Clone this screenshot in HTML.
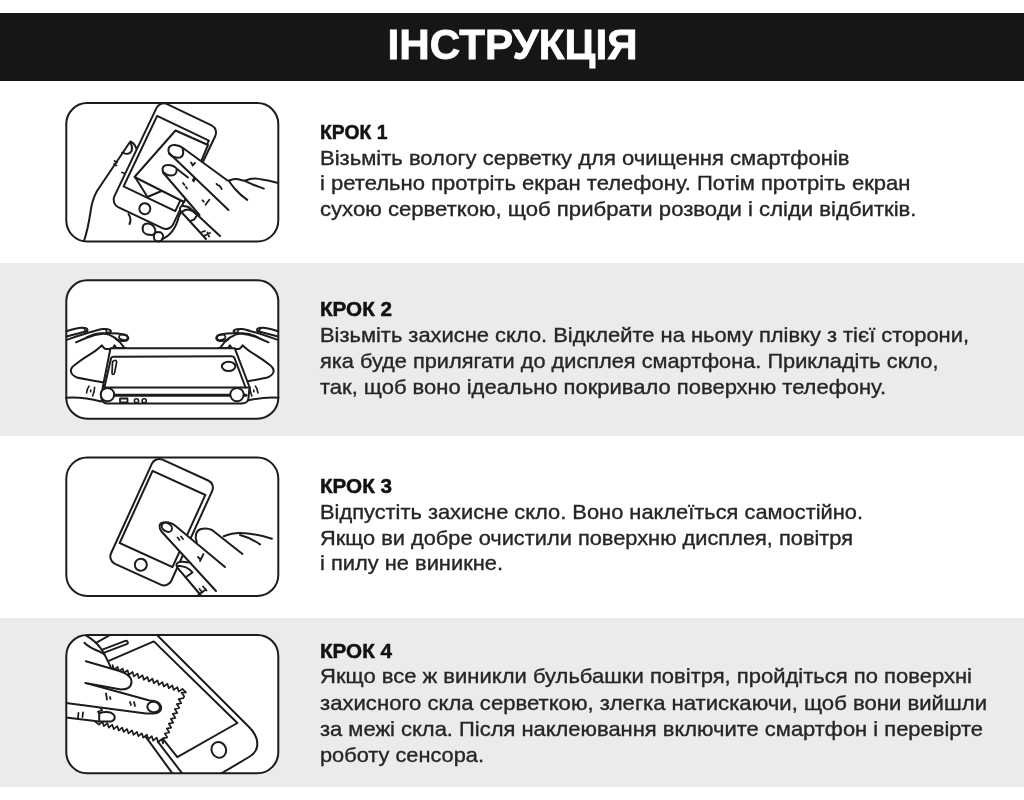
<!DOCTYPE html>
<html><head><meta charset="utf-8"><style>
html,body{margin:0;padding:0;background:#fff;width:1024px;height:800px;overflow:hidden}
svg{position:absolute;left:0;top:0;display:block;filter:grayscale(1)}
.k{font-family:"Liberation Sans",sans-serif;font-weight:bold;font-size:20.3px;fill:#121212;stroke:#121212;stroke-width:0.5}
.b{font-family:"Liberation Sans",sans-serif;font-size:20.4px;fill:#262626;stroke:#262626;stroke-width:0.35}
.h{font-family:"Liberation Sans",sans-serif;font-weight:bold;font-size:42.5px;fill:#fff;stroke:#fff;stroke-width:0.8}
.bx{fill:#fff;stroke:#1c1c1c;stroke-width:2}
.ln{fill:none;stroke:#1c1c1c;stroke-width:2;stroke-linecap:round;stroke-linejoin:round}
.lw{fill:#fff;stroke:#1c1c1c;stroke-width:2;stroke-linecap:round;stroke-linejoin:round}
</style></head><body>
<svg width="1024" height="800" viewBox="0 0 1024 800">
<rect x="0" y="13" width="1024" height="68" fill="#161616"/>
<rect x="0" y="263" width="1024" height="173" fill="#ebebeb"/>
<rect x="0" y="618" width="1024" height="169" fill="#ebebeb"/>
<text x="387.5" y="59" class="h" textLength="250.0" lengthAdjust="spacingAndGlyphs">ІНСТРУКЦІЯ</text>
<defs><clipPath id="c4"><rect x="66.3" y="634.9" width="212" height="138.4" rx="21"/></clipPath></defs>
<g style="fill:#fff;stroke:none"><rect x="66.3" y="103.1" width="212" height="138.4" rx="21"/><rect x="66.3" y="280.3" width="212" height="138.4" rx="21"/><rect x="66.3" y="457.5" width="212" height="138.4" rx="21"/><rect x="66.3" y="634.9" width="212" height="138.4" rx="21"/></g>
<!-- box1 illustration -->
<g class="ln">
<path d="M84,241 C87,232 89,222 90.5,212 C91.5,204 93,198 97,191 L130.3,141.5 C133,142.5 135.5,145.5 136.5,149 L120,190 L112,241 Z" style="fill:#fff;stroke:none"/>
<path d="M84,241 C87,232 89,222 90.5,212 C91.5,204 93,198 97,191 L130.3,141.5 C133,142.5 135.5,145.5 136.5,149"/>
<path d="M122,152.7 C126,154.5 130,154 131.6,151 C132.5,148 131.8,145 130.5,142.5"/>
<path d="M114.5,161 L117,162.5 M114,164 L116.5,165.5 M122,172.5 L125,173.5" style="stroke-width:1.8"/>
</g>
<g transform="translate(165.5,166.5) rotate(25.5)">
<rect class="lw" x="-33.3" y="-57" width="65.1" height="114" rx="8"/>
<rect class="ln" x="-29.3" y="-42" width="57.3" height="78"/>
<circle class="ln" cx="-0.5" cy="47" r="5.5"/>
</g>
<g class="ln">
<!-- cloth -->
<path class="lw" d="M175.5,130.5 L208,145 L184,202 L134.5,177 Z"/>
<path d="M135,177 L147.5,197 L161.5,191"/>
<!-- fingertips of holding hand -->
<path class="lw" d="M148,223.5 C143,223 142,227 143,231 C144,234 148,235 152,235 C155,234.5 156,232 155,229 C154,226 152,224 148,223.5 Z"/>
<path class="lw" d="M158,232 C154,232 153,236 154.5,239.5 C156,242 160,242 162,240 C164,238 163.5,234 161,232.5 C160,232 159,232 158,232 Z"/>
<path d="M162,239 C170,236 176,228 179,216 L182.5,209.5"/>
<path d="M128.5,214 C130.5,217 131,221 129.5,224"/>
<!-- lower third finger -->
<path class="lw" d="M206,239 L180.5,211 C179,208 180.5,206 183,206 C186,206 189,207 191,209 L220,236"/>
<path d="M182.5,211.5 C184,210 186.5,209.5 188.5,209.5 C192,210.5 195.5,212.5 197,215.5 L194.2,219.3 L190.3,221.2"/>
<path d="M202,232 L205,231 M204,236 L210,233 M207.5,232.5 L209,236.5" style="stroke-width:1.8"/>
<!-- hand contour -->
<path class="lw" d="M278,183 C266,178 256,177 246,178 L227.5,180.5 L230,205 L210,225 L178,185 Z" style="stroke:none"/>
<path d="M277.6,182.8 C270,181 262,179 255,178.6 C251,178.5 248,179.5 245,180.7 C243,181 240,179.5 236,179.1 C233,179 231,180 228.7,180.7"/>
<path d="M228.7,180.7 C231,184 233,187 236,190 C239,193.5 243,197 247.3,199.9"/>
<path d="M244.6,180.7 C249,183 252,184.5 255.3,185.5 C258,186.5 261,187.5 263.8,188.7"/>
<!-- finger 2 -->
<path class="lw" d="M163,172 C161.5,167 164,165 168,165 C172,165 175,166.5 177,169 L228.5,210 L199.5,215 Z" style="stroke:none"/>
<path d="M163,172.5 L199.5,215"/>
<path d="M163,172 C161.5,167 164,165 168,165 C172,165 175,166.5 177,169 L188,177.5"/>
<path d="M163,172 C165,174 168,175.5 171,175.5 C175,175.5 177,173 176.5,170"/>
<!-- finger 1 -->
<path class="lw" d="M169,153 C167,147 171,144.5 175,145 C179,145.5 181,146.5 183,148 L227.5,180.5 L228.5,210 Z" style="stroke:none"/>
<path d="M169,153 C167,147 171,144.5 175,145 C179,145.5 181,146.5 183,148 L227.5,180.5"/>
<path d="M169,153 L228.5,210"/>
<path d="M169.5,154 C172,157 176,158 180,157.5 C183.5,156.5 184,152 182.5,148.5"/>
<path d="M191,162.5 L192,164 M192.5,165.5 L195,163 M183,183 L184.5,185 M186,187 L187,188.5 M216.5,183.8 L218,185.3 M219.3,185.5 L221.8,189 M202.5,200.3 L203.8,201.6 M205.5,204.8 L209.3,199.8" style="stroke-width:1.8"/>
</g>
<!-- box2 illustration -->
<g id="hand2" class="ln">
<path d="M66,331.3 C72,329.5 78,328 82,327.8 L103,329 C112,330 120,333 125,334.6 C129,336 129.5,339.5 126,340.5 C122,341 118,340 115,339 C112,344 118,346 124.2,347.4 L93,352 L80,343 L66,340 Z" style="fill:#fff;stroke:none"/>
<path class="lw" d="M66,397.7 C78,397 90,398.5 101,401.5 L112,387.5 C109.5,384.8 106.5,382.8 102.5,382.2 C95,381 86,379.5 77,377.5 C70,374.5 69,369.5 74,365.5 C81,360 88,355.5 93.5,352.2 C97,350 100,347 102,345.3 C103,347 104,349 106,349 L112,349 C113,348.5 114,346.5 114.6,345.3 C115.5,347 116,348 117,348 L126,348"/>
<path d="M66.5,331.3 C72,329.5 78,328 82,327.8 C85,327.6 87.5,328.5 87.5,330 C87.5,331 86.5,331.5 85,331.5"/>
<path d="M66.5,336.5 L86.6,331.3"/>
<path d="M66.5,339.9 C78,336 92,331 102.3,329 C106,328.6 110.5,329.3 111,331 C111,332.3 109,332.8 106,332.7"/>
<path d="M76,342.3 L86,338 C92,335.5 98,334 104,333.5 C110,333 118,333.3 124.5,334.6 C128.5,335.5 129.5,339 126.5,340.5 C123,341.5 119,340.8 116.5,339.5"/>
<ellipse cx="123.3" cy="337.4" rx="4.3" ry="2.5" transform="rotate(10 123.3 337.4)" style="stroke-width:1.7"/>
<path d="M86.6,337.3 C92,334.5 98,333 103,333.2 C111,334 119,340 124.2,347.6"/>
<path d="M83,328 C84.5,328.5 85.5,330 85,331.3 M104.5,329 C106,329.5 107,331 106.5,332.5" style="stroke-width:1.5"/>
<path d="M89,386.2 C87.5,388 86.8,390.5 86.6,393 M90.8,390 L90.6,391.8 M94.6,387.2 C94.6,390 93.8,393 92.6,396" style="stroke-width:1.6"/>
<circle class="lw" cx="107.5" cy="394.6" r="6.7"/>
</g>
<use href="#hand2" transform="matrix(-1,0,0,1,344.5,0)"/>
<g class="ln">
<!-- phone body -->
<path class="lw" d="M110.5,348.3 L234.8,348.3 L249.5,387 L248.5,398 C248,402 246,403.5 242,403.5 L107,403.5 C104,403.5 101,401 101.5,397 L102.8,387 Z"/>
<path d="M113,356.8 L231.5,356.3 C233,356.3 234,357 234.5,358 L245.5,387.5 M113,356.8 C112,356.8 111.5,357.5 111,358.5 L104.5,387"/>
<path d="M103,387.5 L248,387.5"/>
<path d="M104,395.2 L246,395.2" style="stroke-width:3"/>
<rect x="120" y="398.5" width="7.5" height="4" style="stroke-width:1.8"/>
<circle cx="136.5" cy="400.8" r="2.1" style="stroke-width:1.6"/>
<circle cx="144.2" cy="400.8" r="2.1" style="stroke-width:1.6"/>
<path d="M114.5,360.5 C116,360 117,361 116.5,363 L114.5,373 C114,375 112,375 112,373 L112.5,363 C112.5,361.5 113.5,360.7 114.5,360.5 Z" style="stroke-width:1.7"/>
<ellipse cx="228.6" cy="366.3" rx="6.8" ry="4.6"/>
<circle class="lw" cx="107.5" cy="394.6" r="6.7"/>
<circle class="lw" cx="237" cy="394.6" r="6.7"/>
</g>
<!-- box3 illustration -->
<g transform="translate(160.9,521.8) rotate(24.5)">
<rect class="lw" x="-32.3" y="-57.2" width="66.2" height="114.5" rx="8"/>
<rect class="ln" x="-28.7" y="-42.9" width="58" height="79.3"/>
<circle class="ln" cx="-0.5" cy="47.4" r="6"/>
</g>
<g class="ln">
<!-- bottom finger -->
<path d="M201,596 L177.4,567.7 C175.5,565 176.5,562.5 179.5,562 C184,561.5 189,563 192,566 L218,596 Z" style="fill:#fff;stroke:none"/>
<path d="M201,595.5 L177.4,567.7 C175.5,565 176.5,562.5 179.5,562 C182,561.7 185,561.8 188,562.5"/>
<path d="M178,566 C183,565.5 189,568 192.5,572.5 L185.6,577.3"/>
<path d="M199.5,589 L202.5,592.5 M203,586.5 L206.5,590.5 M198.5,594.5 L206,589.5" style="stroke-width:1.8"/>
<!-- hand + middle finger -->
<path d="M225,567 L197,543 C194.5,536 196,530.5 201,529 C205,528 209,528.5 212,530 L242.5,554 L262,545 C258,541 250,536 240,535 C233,534 228,535 223.8,536.3 L278,540 L278,600 L225,600 Z" style="fill:#fff;stroke:none"/>
<path d="M196.8,542 C194.5,536 196,530.5 201,529 C205,528 209,528.5 212,530 L242.5,554"/>
<path d="M223.8,536.3 C230,534 236,533 240,533.1 C252,533 263,536 271.9,538.8"/>
<path d="M240,535 C248,537 255,541 260,544.4"/>
<!-- index finger -->
<path d="M216,591 L161.5,531.5 C158.5,527.5 159,523 163,522.5 C168,521.5 172,523 175,525.5 L225,567 Z" style="fill:#fff;stroke:none"/>
<path d="M216,591 L161.5,531.5 C158.5,527.5 159,523 163,522.5 C168,521.5 172,523 175,525.5 L225,567"/>
<ellipse cx="166.9" cy="527.3" rx="5.6" ry="4" transform="rotate(35 166.9 527.3)"/>
<path d="M177.5,537.5 L179.5,540 M181,536.5 L183,539 M198,557 L200,559 M203.5,554 L200,561" style="stroke-width:1.8"/>
</g>
<!-- box4 illustration -->
<g clip-path="url(#c4)">
<g class="ln">
<path class="lw" d="M140,618 L249.5,727.5 C255,733 257.5,739 257.3,745 C257,750 254,754 249,757 L195,789 L184.5,790 L148.4,740.4 L80,652 Z"/>
<path d="M157.8,741.6 L186.5,779"/>
<path d="M153.8,641.4 L237.4,723 L177.3,757.1 L103,663.4 Z"/>
<ellipse cx="218.8" cy="749.8" rx="7.2" ry="8" transform="rotate(-25 218.8 749.8)"/>
<path d="M101,652 L126,642.5" style="stroke-width:5.5"/>
<path d="M101,652 L126,642.5" style="stroke:#fff;stroke-width:1.6"/>
<path class="lw" d="M112.6,665.2 L113.9,669.6 L117.6,666.9 L118.9,671.3 L122.6,668.6 L123.9,673.0 L127.6,670.3 L128.8,674.7 L132.6,672.0 L133.8,676.4 L137.5,673.6 L138.8,678.1 L142.5,675.3 L143.8,679.8 L147.5,677.0 L148.8,681.5 L152.5,678.7 L153.8,683.2 L157.5,680.4 L158.8,684.9 L162.5,682.1 L163.7,686.5 L167.5,683.8 L168.7,688.2 L172.4,685.5 L173.7,689.9 L177.4,687.2 L178.7,691.6 L182.4,688.9 L186.0,692.3 L181.6,692.7 L184.2,696.3 L183.3,698.2 L178.7,699.2 L181.3,703.1 L176.8,704.1 L179.3,708.0 L174.8,709.0 L177.3,712.9 L172.8,713.9 L175.3,717.8 L170.8,718.8 L173.3,722.7 L168.8,723.7 L171.3,727.6 L166.8,728.6 L169.3,732.5 L164.8,733.5 L167.3,737.4 L162.8,738.4 L163.1,743.4 L161.7,739.1 L158.1,742.0 L156.7,737.6 L153.2,740.6 L151.8,736.2 L148.3,739.1 L146.9,734.7 L143.3,737.7 L141.9,733.3 L138.4,736.2 L137.0,731.9 L133.5,734.8 L132.1,730.4 L128.5,733.4 L127.1,729.0 L123.6,731.9 L122.2,727.6 L118.7,730.5 L117.3,726.1 L113.7,729.1 L112.3,724.7 L108.8,727.6 L107.4,723.2 L103.9,726.2 L102.5,721.8 L98.9,724.7 L95.2,721.7 L99.5,720.2 L96.5,716.7 L100.9,715.2 L97.9,711.7 L102.2,710.2 L99.3,706.6 L103.6,705.1 L100.6,701.6 L105.0,700.1 L102.0,696.6 L106.3,695.1 L103.3,691.6 L107.7,690.1 L104.7,686.6 L109.1,685.1 L106.1,681.6 L110.4,680.0 L107.4,676.5 L111.8,675.0 L108.8,671.5 L113.2,670.0Z" style="stroke-width:1.7"/>
<path class="lw" d="M60,628 L86.2,635.6 C92,639 97,643 100.5,648 C104,653 107,659 110.8,667.4 L112,700 L60,700 Z" style="stroke:none"/>
<path d="M86.2,635.6 C92,639 97,643 100.5,648 C104,653 107,659 110.8,667.4"/>
<path d="M84.4,642.8 C88,646.5 94,649.5 100,651.8 C102,652.8 103.5,653.8 104.8,654.8"/>
<!-- finger 3 -->
<path d="M60,717.5 L99.2,721.6 L111,721.6 C115,720.5 116,716.5 113,714 C110,711.5 104,711.5 99.2,713.4 L60,703 Z" style="fill:#fff;stroke:none"/>
<path d="M66,717.5 L99.2,721.6 L111,721.6 C115,720.5 116,716.5 113,714 C110,711.5 104,711.5 99.2,713.4"/>
<path d="M99.2,713.4 L99.2,721.6" />
<!-- finger 2 -->
<path d="M60,702.9 L146,713.4 L153,713.5 C159,713.5 162,710.5 161,706.5 C160,702.5 156,700.5 149.5,700.5 L86,683 L60,683 Z" style="fill:#fff;stroke:none"/>
<path d="M66,702.9 L146,713.4 L153,713.5 C159,713.5 162,710.5 161,706.5 C160,702.5 156,700.5 149.5,700.5 L86,683"/>
<ellipse cx="153.6" cy="707" rx="6.3" ry="5.2" transform="rotate(10 153.6 707)"/>
<!-- finger 1 -->
<path d="M60,659 L85.9,661.3 L118.7,670.7 C126,673 131.5,676 131.5,681.5 C131.5,687 127,689.5 121,689.5 L85.3,683 L60,681 Z" style="fill:#fff;stroke:none"/>
<path d="M85.9,661.3 L118.7,670.7 C126,673 131.5,676 131.5,681.5 C131.5,687 127,689.5 121,689.5 L85.3,683"/>
<path d="M106,693.5 L107,699.5 M110,697 L110.5,699" style="stroke-width:1.8"/>
<path d="M130,702 L131,705 M134,702 L135,706" style="stroke-width:1.8"/>
<path d="M78.5,713 L78,717.5 M83,712.5 L82.5,717" style="stroke-width:1.8"/>
</g>
</g>

<g style="fill:none;stroke:#1c1c1c;stroke-width:2"><rect x="66.3" y="103.1" width="212" height="138.4" rx="21"/><rect x="66.3" y="280.3" width="212" height="138.4" rx="21"/><rect x="66.3" y="457.5" width="212" height="138.4" rx="21"/><rect x="66.3" y="634.9" width="212" height="138.4" rx="21"/></g>
<text x="320" y="139" class="k" textLength="67.5" lengthAdjust="spacingAndGlyphs">КРОК 1</text>
<text x="320" y="165" class="b" textLength="529.5" lengthAdjust="spacingAndGlyphs">Візьміть вологу серветку для очищення смартфонів</text>
<text x="320" y="190" class="b" textLength="590.5" lengthAdjust="spacingAndGlyphs">і ретельно протріть екран телефону. Потім протріть екран</text>
<text x="320" y="216" class="b" textLength="596.5" lengthAdjust="spacingAndGlyphs">сухою серветкою, щоб прибрати розводи і сліди відбитків.</text>
<text x="320" y="316" class="k" textLength="72" lengthAdjust="spacingAndGlyphs">КРОК 2</text>
<text x="320" y="342" class="b" textLength="649" lengthAdjust="spacingAndGlyphs">Візьміть захисне скло. Відклейте на ньому плівку з тієї сторони,</text>
<text x="320" y="368" class="b" textLength="618.5" lengthAdjust="spacingAndGlyphs">яка буде прилягати до дисплея смартфона. Прикладіть скло,</text>
<text x="320" y="394" class="b" textLength="566" lengthAdjust="spacingAndGlyphs">так, щоб воно ідеально покривало поверхню телефону.</text>
<text x="320" y="493" class="k" textLength="72" lengthAdjust="spacingAndGlyphs">КРОК 3</text>
<text x="320" y="519" class="b" textLength="543" lengthAdjust="spacingAndGlyphs">Відпустіть захисне скло. Воно наклеїться самостійно.</text>
<text x="320" y="545" class="b" textLength="533" lengthAdjust="spacingAndGlyphs">Якщо ви добре очистили поверхню дисплея, повітря</text>
<text x="320" y="570" class="b" textLength="183" lengthAdjust="spacingAndGlyphs">і пилу не виникне.</text>
<text x="320" y="658" class="k" textLength="72" lengthAdjust="spacingAndGlyphs">КРОК 4</text>
<text x="320" y="683" class="b" textLength="652" lengthAdjust="spacingAndGlyphs">Якщо все ж виникли бульбашки повітря, пройдіться по поверхні</text>
<text x="320" y="709.5" class="b" textLength="667" lengthAdjust="spacingAndGlyphs">захисного скла серветкою, злегка натискаючи, щоб вони вийшли</text>
<text x="320" y="735.5" class="b" textLength="663" lengthAdjust="spacingAndGlyphs">за межі скла. Після наклеювання включите смартфон і перевірте</text>
<text x="320" y="761.5" class="b" textLength="164" lengthAdjust="spacingAndGlyphs">роботу сенсора.</text>
</svg>
</body></html>
